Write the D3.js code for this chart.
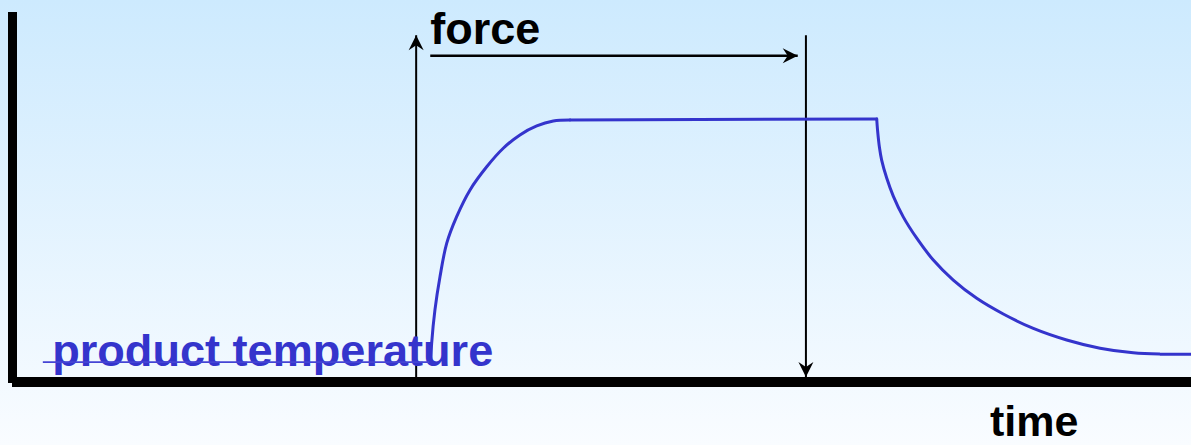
<!DOCTYPE html>
<html>
<head>
<meta charset="utf-8">
<script src="https://cdn.jsdelivr.net/npm/d3@7"></script>
<style>
  html, body { margin: 0; padding: 0; background: #fff; }
  svg { display: block; }
</style>
</head>
<body>
<div id="chart"></div>
<script>
// --- Data (time in arbitrary units 0..100, value in % of the force plateau) ---
const baseTime = [2.2, 35.24];
const baseValue = [5.8, 5.8];

const riseTime = [35.24, 35.32, 35.60, 36.03, 36.60, 37.45, 38.59, 40.01, 41.42, 42.84, 44.27, 45.68, 47.10];
const riseValue = [5.8, 13.1, 26.1, 39.0, 52.0, 62.4, 72.8, 81.8, 89.0, 94.2, 97.7, 99.6, 100];

const plateauTime = [47.10, 73.23];
const plateauValue = [100, 100.4];

const decayTime = [73.23, 73.30, 73.47, 73.65, 74.08, 74.64, 75.49, 76.64, 78.05, 79.75, 81.75, 84.01,
  86.57, 89.41, 92.25, 95.08, 97.36, 100];
const decayValue = [100.4, 96.1, 89.1, 84.4, 77.4, 70.4, 62.3, 54.0, 45.5, 37.7, 30.6, 24.5,
  18.9, 14.4, 11.2, 9.4, 8.9, 8.9];

const forceStart = 34.0;   // up arrow
const forceEnd = 67.2;     // down arrow
const spanArrow = [35.2, 66.5];
const arrowTop = 133;
const spanLevel = 125;

const labels = { force: "force", time: "time", product: "product temperature" };

// --- Dimensions ---
const width = 1191;
const height = 445;

const x = d3.scaleLinear().domain([0, 100]).range([17, 1191]);
const y = d3.scaleLinear().domain([0, 100]).range([377, 120]);

const svg = d3.select("#chart").append("svg")
  .attr("width", width)
  .attr("height", height);

const defs = svg.append("defs");
const grad = defs.append("linearGradient")
  .attr("id", "bg")
  .attr("x1", 0).attr("y1", 0).attr("x2", 0).attr("y2", 1);
grad.append("stop").attr("offset", "0%").attr("stop-color", "#cdeafe");
grad.append("stop").attr("offset", "100%").attr("stop-color", "#f9fcff");

// stealth style arrowhead
defs.append("marker")
  .attr("id", "head")
  .attr("viewBox", "-16 -8 17 16")
  .attr("refX", 0).attr("refY", 0)
  .attr("markerWidth", 17).attr("markerHeight", 16)
  .attr("markerUnits", "userSpaceOnUse")
  .attr("orient", "auto")
  .append("path")
  .attr("d", "M0,0 L-15,-7.5 L-10,0 L-15,7.5 Z")
  .attr("fill", "#000");

svg.append("rect")
  .attr("width", width).attr("height", height)
  .attr("fill", "url(#bg)");

// --- Axes (thick bars) ---
svg.append("rect")
  .attr("x", x(0) - 9).attr("y", 12)
  .attr("width", 9).attr("height", y(0) + 6 - 12)
  .attr("fill", "#000");
svg.append("rect")
  .attr("x", x(0) - 5).attr("y", y(0))
  .attr("width", width - x(0) + 5).attr("height", 10)
  .attr("fill", "#000");

// --- Force arrows ---
svg.append("line")
  .attr("x1", x(forceStart)).attr("x2", x(forceStart))
  .attr("y1", y(0)).attr("y2", y(arrowTop))
  .attr("stroke", "#000").attr("stroke-width", 2)
  .attr("marker-end", "url(#head)");

svg.append("line")
  .attr("x1", x(spanArrow[0])).attr("x2", x(spanArrow[1]))
  .attr("y1", y(spanLevel)).attr("y2", y(spanLevel))
  .attr("stroke", "#000").attr("stroke-width", 2.5)
  .attr("marker-end", "url(#head)");

svg.append("line")
  .attr("x1", x(forceEnd)).attr("x2", x(forceEnd))
  .attr("y1", y(arrowTop)).attr("y2", y(0))
  .attr("stroke", "#000").attr("stroke-width", 2)
  .attr("marker-end", "url(#head)");

// --- Product temperature ---
const zip = (ts, vs) => ts.map((t, i) => [t, vs[i]]);
const smooth = d3.line().x(d => x(d[0])).y(d => y(d[1])).curve(d3.curveCatmullRom.alpha(0.5));
const straight = d3.line().x(d => x(d[0])).y(d => y(d[1]));

svg.append("text")
  .attr("x", x(3.0)).attr("y", y(0) - 11)
  .attr("font-family", "'Liberation Sans', Arial, sans-serif")
  .attr("font-weight", "bold")
  .attr("font-size", 45)
  .attr("fill", "#3434cc")
  .attr("textLength", 441)
  .attr("lengthAdjust", "spacingAndGlyphs")
  .text(labels.product);

svg.append("path")
  .attr("d", straight(zip(baseTime, baseValue)))
  .attr("fill", "none")
  .attr("stroke", "#4444d4")
  .attr("stroke-width", 1.6);

const curveGroup = svg.append("g")
  .attr("fill", "none")
  .attr("stroke", "#3434cc")
  .attr("stroke-width", 3)
  .attr("stroke-linecap", "round")
  .attr("stroke-linejoin", "round");

curveGroup.append("path").attr("d", smooth(zip(riseTime, riseValue)));
curveGroup.append("path").attr("d", straight(zip(plateauTime, plateauValue)));
curveGroup.append("path").attr("d", smooth(zip(decayTime, decayValue)));

// --- Labels ---
svg.append("text")
  .attr("x", x(35.2)).attr("y", 44)
  .attr("font-family", "'Liberation Sans', Arial, sans-serif")
  .attr("font-weight", "bold")
  .attr("font-size", 45)
  .attr("fill", "#000")
  .text(labels.force);

svg.append("text")
  .attr("x", 990).attr("y", 436)
  .attr("font-family", "'Liberation Sans', Arial, sans-serif")
  .attr("font-weight", "bold")
  .attr("font-size", 43)
  .attr("fill", "#000")
  .text(labels.time);
</script>
</body>
</html>
